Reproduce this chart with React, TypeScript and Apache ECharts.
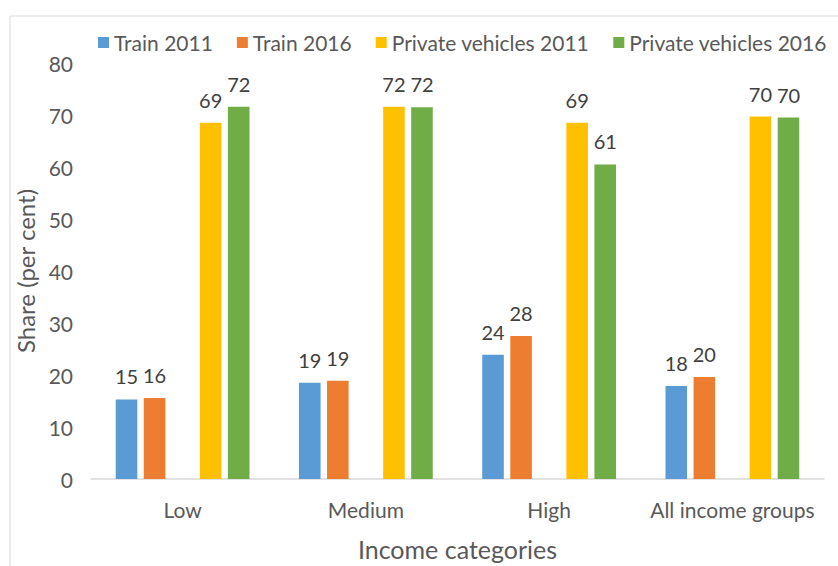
import React, { useEffect, useRef } from "react";
import * as echarts from "echarts";

const categories = ["Low", "Medium", "High", "All income groups"];
const train2011 = [15.3, 18.5, 23.9, 17.9];
const train2016 = [15.6, 18.9, 27.5, 19.6];
const private2011 = [68.5, 71.6, 68.5, 69.7];
const private2016 = [71.6, 71.5, 60.5, 69.5];
const yTicks = { min: 0, max: 80, interval: 10 };

const FONT = "Lato, 'Open Sans', sans-serif";

export default function App() {
  const ref = useRef<HTMLDivElement>(null);
  useEffect(() => {
    if (!ref.current) return;
    const chart = echarts.init(ref.current, undefined, { renderer: "svg" });
    const label = {
      show: true,
      position: "top" as const,
      distance: 13,
      color: "#404040",
      fontSize: 20,
      fontFamily: FONT,
      formatter: (p: any) => String(Math.round(p.value)),
    };
    const mk = (name: string, data: (number | null)[], color: string) => ({
      name,
      type: "bar" as const,
      data,
      itemStyle: { color },
      label,
      barGap: "30%",
      barCategoryGap: "27%",
    });
    chart.setOption({
      animation: false,
      backgroundColor: "#ffffff",
      textStyle: { fontFamily: FONT },
      graphic: [
        {
          type: "rect",
          shape: { x: 10, y: 16, width: 840, height: 560 },
          style: { fill: "none", stroke: "#d9d9d9", lineWidth: 1 },
          silent: true,
        },
      ],
      legend: {
        data: ["Train 2011", "Train 2016", "Private vehicles 2011", "Private vehicles 2016"],
        top: 27,
        left: 93,
        itemWidth: 11,
        itemHeight: 11,
        itemGap: 24,
        icon: "rect",
        textStyle: { color: "#595959", fontSize: 21, fontFamily: FONT, padding: [0, 0, 0, 0] },
      },
      grid: { left: 91, right: 14, top: 63, bottom: 87, containLabel: false },
      xAxis: {
        type: "category",
        data: categories,
        axisLine: { lineStyle: { color: "#d9d9d9", width: 1.5 } },
        axisTick: { show: false },
        axisLabel: { color: "#595959", fontSize: 21, fontFamily: FONT, margin: 20, interval: 0 },
        name: "Income categories",
        nameLocation: "middle",
        nameGap: 57,
        nameTextStyle: { color: "#595959", fontSize: 25, fontFamily: FONT },
      },
      yAxis: {
        type: "value",
        min: yTicks.min,
        max: yTicks.max,
        interval: yTicks.interval,
        axisLine: { show: false },
        axisTick: { show: false },
        splitLine: { show: false },
        axisLabel: { color: "#595959", fontSize: 21, fontFamily: FONT, margin: 18 },
        name: "Share (per cent)",
        nameLocation: "middle",
        nameGap: 47,
        nameRotate: 90,
        nameTextStyle: { color: "#595959", fontSize: 24, fontFamily: FONT },
      },
      series: [
        mk("Train 2011", train2011, "#5b9bd5"),
        mk("Train 2016", train2016, "#ed7d31"),
        mk("", [null, null, null, null], "#a5a5a5"),
        mk("Private vehicles 2011", private2011, "#ffc000"),
        mk("Private vehicles 2016", private2016, "#70ad47"),
      ],
    });
    return () => chart.dispose();
  }, []);
  return (
    <div
      ref={ref}
      style={{ position: "fixed", left: 0, top: 0, width: 838, height: 566 }}
    />
  );
}
